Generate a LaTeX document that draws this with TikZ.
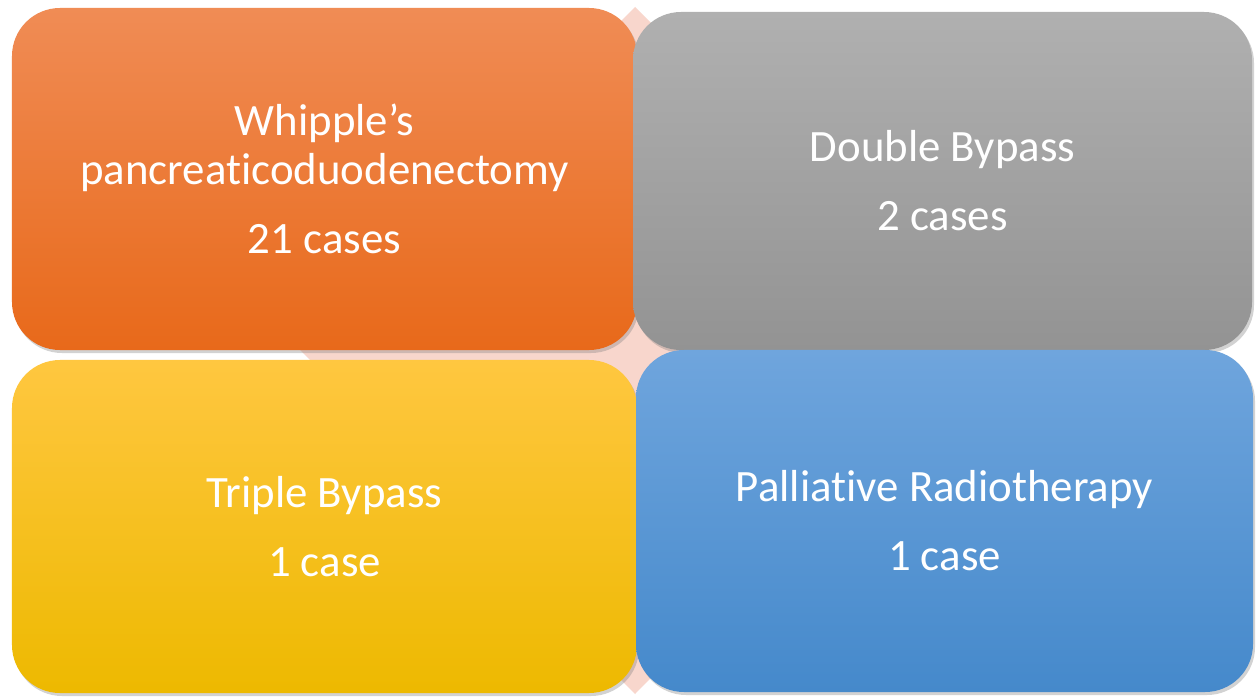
\documentclass[tikz,border=0pt]{standalone}
\usepackage{fontspec}
\setmainfont{Carlito}[Ligatures=NoCommon]
\usetikzlibrary{shadows}
\definecolor{crosspink}{HTML}{F8D6CC}
\definecolor{orangetop}{HTML}{F08C55}
\definecolor{orangebot}{HTML}{E8691A}
\definecolor{graytop}{HTML}{B0B0B0}
\definecolor{graybot}{HTML}{939393}
\definecolor{yellowtop}{HTML}{FFC740}
\definecolor{yellowbot}{HTML}{EDB900}
\definecolor{bluetop}{HTML}{6FA5DD}
\definecolor{bluebot}{HTML}{4589CB}
\tikzset{
  casebox/.style={rectangle, rounded corners=48bp, inner sep=0pt,
    text=white, align=center, font=\fontsize{45}{49}\selectfont,
    drop shadow={shadow xshift=2bp, shadow yshift=-3bp, opacity=0.35}},
}
\begin{document}
\begin{tikzpicture}[x=1bp, y=-1bp]
\useasboundingbox[fill=white] (0,0) rectangle (1257,697);
% pink four-way arrow behind the boxes
\fill[crosspink] (635,7) -- (705,77) -- (665,77) -- (665,320) -- (900,320)
  -- (900,280) -- (970,350) -- (900,420) -- (900,380) -- (665,380)
  -- (665,623) -- (705,623) -- (635,694) -- (565,623) -- (605,623)
  -- (605,380) -- (370,380) -- (370,420) -- (300,350) -- (370,280)
  -- (370,320) -- (605,320) -- (605,77) -- (565,77) -- cycle;
% the four boxes
\node[casebox, top color=orangetop, bottom color=orangebot,
  minimum width=625bp, minimum height=342bp] (whipple) at (324.5,179)
  {Whipple’s\\pancreaticoduodenectomy\\[20bp]21 cases};
\node[casebox, top color=graytop, bottom color=graybot,
  minimum width=619bp, minimum height=338bp] (double) at (942.5,181)
  {Double Bypass\\[20bp]2 cases};
\node[casebox, top color=yellowtop, bottom color=yellowbot,
  minimum width=625bp, minimum height=333bp] (triple) at (324.5,526.5)
  {Triple Bypass\\[20bp]1 case};
\node[casebox, top color=bluetop, bottom color=bluebot,
  minimum width=617bp, minimum height=342bp] (palliative) at (944.5,521)
  {Palliative Radiotherapy\\[20bp]1 case};
\end{tikzpicture}
\end{document}
